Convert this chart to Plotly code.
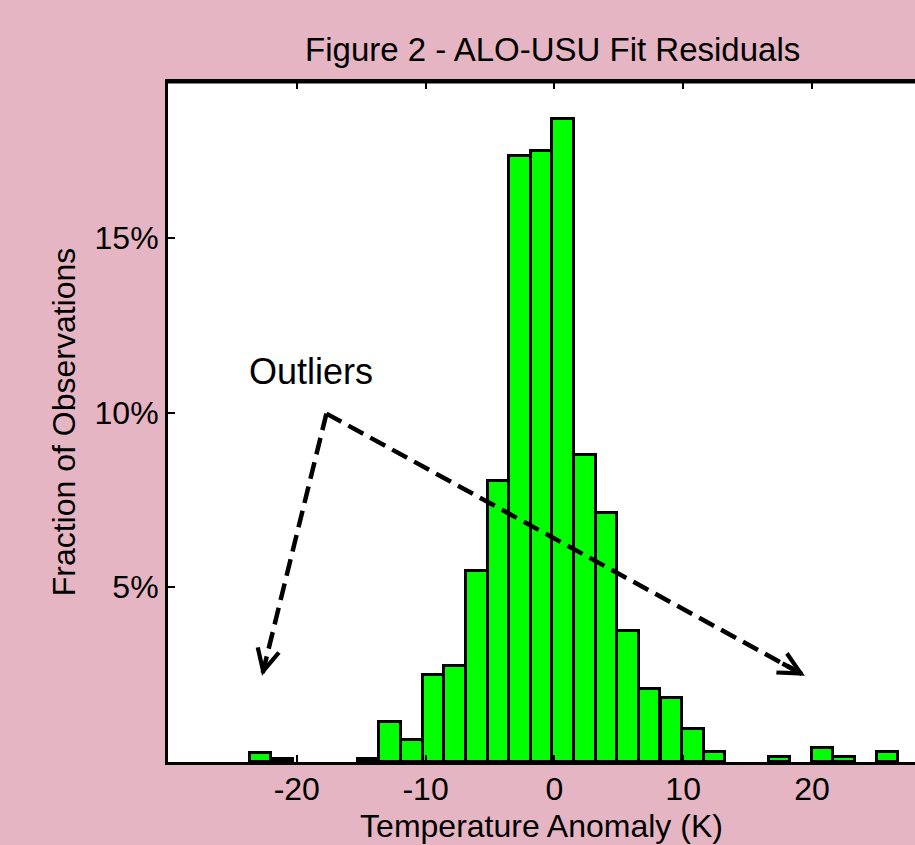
import plotly.graph_objects as go

# ---- data ----
bin_centers = [-22.81, -21.13, -14.42, -12.74, -11.06, -9.38, -7.70, -6.03, -4.35,
               -2.67, -0.99, 0.68, 2.37, 4.05, 5.72, 7.40, 9.08, 10.76, 12.43,
               17.47, 20.82, 22.50, 25.86]
fraction_pct = [0.27, 0.10, 0.10, 1.15, 0.63, 2.49, 2.75, 5.47, 8.04,
                17.34, 17.49, 18.40, 8.80, 7.13, 3.75, 2.10, 1.84, 0.94, 0.29,
                0.13, 0.41, 0.13, 0.28]
bin_width = 1.678
x_tick_vals = [-20, -10, 0, 10, 20]
x_tick_text = ["-20", "-10", "0", "10", "20"]
y_tick_vals = [5, 10, 15]
y_tick_text = ["5%", "10%", "15%"]

# annotation geometry (data coordinates)
apex = (-17.7, 9.97)
left_tip = (-22.7, 2.47)
right_tip = (19.45, 2.47)
outliers_label = (-23.85, 11.17)

PINK = "#E5B5C3"
FONT = "Liberation Sans, Arial, sans-serif"

fig = go.Figure()
fig.add_trace(go.Bar(
    x=bin_centers, y=fraction_pct, width=[bin_width] * len(bin_centers),
    marker=dict(color="#00FF00", line=dict(color="black", width=3)),
    showlegend=False, hoverinfo="skip",
))

# dashed outlier lines
for tip in (left_tip, right_tip):
    fig.add_trace(go.Scatter(
        x=[apex[0], tip[0]], y=[apex[1], tip[1]], mode="lines",
        line=dict(color="black", width=4.5, dash="17px,8px"),
        showlegend=False, hoverinfo="skip",
    ))
    # arrowhead only (short tail along the line)
    tail = (tip[0] + 0.05 * (apex[0] - tip[0]), tip[1] + 0.05 * (apex[1] - tip[1]))
    fig.add_annotation(
        x=tip[0], y=tip[1], ax=tail[0], ay=tail[1], xref="x", yref="y",
        axref="x", ayref="y", showarrow=True, arrowhead=5, arrowsize=0.95,
        arrowwidth=4.5, arrowcolor="black", text="",
    )

fig.add_annotation(
    x=outliers_label[0], y=outliers_label[1], xref="x", yref="y",
    text="Outliers", showarrow=False, xanchor="left", yanchor="middle",
    font=dict(family=FONT, size=36, color="black"),
)

fig.update_layout(
    width=915, height=845,
    paper_bgcolor=PINK, plot_bgcolor="white",
    margin=dict(l=168, r=0, t=82, b=83),
    bargap=0,
    font=dict(family=FONT, size=32, color="black"),
    title=dict(text="Figure 2 - ALO-USU Fit Residuals", x=0.604, xanchor="center",
               y=0.941, yanchor="middle", font=dict(family=FONT, size=33, color="black")),
)
fig.update_xaxes(
    range=[-30, 28.0], tickvals=x_tick_vals, ticktext=x_tick_text,
    ticks="inside", ticklen=7, tickwidth=2, tickcolor="black",
    showline=True, linecolor="black", linewidth=3, mirror="ticks",
    showgrid=False, zeroline=False, ticklabelstandoff=-3,
    title=dict(text="Temperature Anomaly (K)", font=dict(family=FONT, size=32), standoff=9),
    tickfont=dict(family=FONT, size=32),
)
fig.update_yaxes(
    range=[0, 19.46], tickvals=y_tick_vals, ticktext=y_tick_text,
    ticks="inside", ticklen=7, tickwidth=2, tickcolor="black",
    showline=True, linecolor="black", linewidth=3, mirror=False,
    showgrid=False, zeroline=False,
    title=dict(text="Fraction of Observations", font=dict(family=FONT, size=32), standoff=10),
    tickfont=dict(family=FONT, size=32),
)
# top border line
fig.add_shape(type="line", xref="paper", yref="paper", x0=0, x1=1, y0=1, y1=1,
              line=dict(color="black", width=3), layer="below")

fig.write_html("out.html", config={"displayModeBar": False},
               post_script="document.body.style.margin='0';")
